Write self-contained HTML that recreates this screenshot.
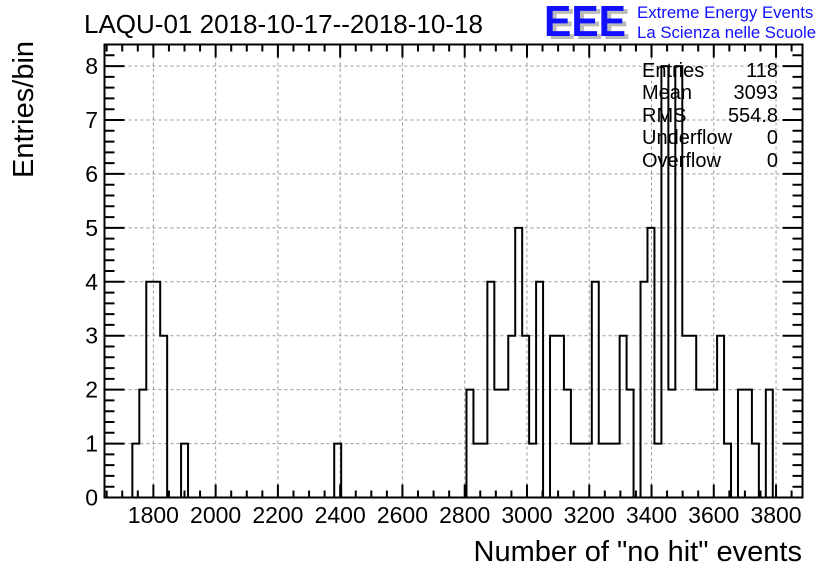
<!DOCTYPE html>
<html><head><meta charset="utf-8"><style>
html,body{margin:0;padding:0;background:#fff;}
svg{display:block;font-family:"Liberation Sans",sans-serif;}
</style></head><body>
<svg id="chart" width="836" height="572" viewBox="0 0 836 572">
<rect width="836" height="572" fill="#fff"/>
<g id="grid"></g>
<g id="ticks"></g>
<g id="labels" font-size="23" fill="#000"></g>
<path id="hist" fill="none" stroke="#000" stroke-width="2"/>
<rect x="104.5" y="44.5" width="698" height="453" fill="none" stroke="#000" stroke-width="2"/>
<text x="84" y="33" font-size="26">LAQU-01 2018-10-17--2018-10-18</text>
<text transform="translate(33,178) rotate(-90)" font-size="29">Entries/bin</text>
<text x="802" y="561" font-size="29" text-anchor="end">Number of "no hit" events</text>
<g>
<text x="548" y="39" font-size="44" font-weight="bold" fill="#bbb" textLength="82" lengthAdjust="spacingAndGlyphs">EEE</text>
<text x="544" y="36" font-size="44" font-weight="bold" fill="#1010ff" textLength="82" lengthAdjust="spacingAndGlyphs">EEE</text>
<text x="637" y="18" font-size="16.8" fill="#1010ff">Extreme Energy Events</text>
<text x="637" y="38" font-size="16.8" fill="#1010ff">La Scienza nelle Scuole</text>
</g>
<g font-size="20">
<text x="642" y="77">Entries</text><text x="778" y="77" text-anchor="end">118</text>
<text x="642" y="99">Mean</text><text x="778" y="99" text-anchor="end">3093</text>
<text x="642" y="122">RMS</text><text x="778" y="122" text-anchor="end">554.8</text>
<text x="642" y="144">Underflow</text><text x="778" y="144" text-anchor="end">0</text>
<text x="642" y="167">Overflow</text><text x="778" y="167" text-anchor="end">0</text>
</g>
</svg>
<script>
const xMin = 1643;
const binWidth = 22.36;
const counts = [0,0,0,0,1,2,4,4,3,0, 0,1,0,0,0,0,0,0,0,0, 0,0,0,0,0,0,0,0,0,0, 0,0,0,1,0,0,0,0,0,0, 0,0,0,0,0,0,0,0,0,0, 0,0,2,1,1,4,2,2,3,5, 3,1,4,0,3,3,2,1,1,1, 4,1,1,1,3,2,0,4,5,1, 8,2,8,3,3,2,2,2,3,1, 0,2,2,1,0,2,0,0,0,0];
const xTicks = [1800,2000,2200,2400,2600,2800,3000,3200,3400,3600,3800];
const yTicks = [0,1,2,3,4,5,6,7,8];
const X0=104.5,X1=802.5,Y0=497.5,Y1=44.5;
const xLo=1643, xHi=3885, yHi=8.4;
function sx(v){return X0+(v-xLo)/(xHi-xLo)*(X1-X0);}
function sy(v){return Y0-v/yHi*(Y0-Y1);}
const NS="http://www.w3.org/2000/svg";
function mk(tag,attrs,parent){const e=document.createElementNS(NS,tag);for(const k in attrs)e.setAttribute(k,attrs[k]);parent.appendChild(e);return e;}
const grid=document.getElementById('grid'),ticks=document.getElementById('ticks'),labels=document.getElementById('labels');
xTicks.forEach(t=>{
  const x=sx(t);
  const g=mk('line',{x1:x,x2:x,y1:Y1,y2:Y0,stroke:'#999','stroke-dasharray':'3,3','stroke-width':1},grid);
  
  
  const l=mk('text',{x:x,y:523,'text-anchor':'middle'},labels);
  
  
  l.textContent=t;
});
yTicks.forEach(t=>{
  const y=sy(t);
  if(t>0){const g=mk('line',{x1:X0,x2:X1,y1:y,y2:y,stroke:'#999','stroke-dasharray':'3,3','stroke-width':1},grid);
  
  }
  const l=mk('text',{x:98,y:y+8,'text-anchor':'end'},labels);
  
  
  l.textContent=t;
});
let d='';
for(let v=1650;v<=3850;v+=50){const x=sx(v);const L=(v%200===0)?13:7;
  d+=`M${x},${Y0}v${-L}M${x},${Y1}v${L}`;}
for(let v=0;v<=8.4;v+=0.2){const y=sy(v);const L=(Math.abs(v-Math.round(v))<1e-6)?20:10;
  d+=`M${X0},${y}h${L}M${X1},${y}h${-L}`;}
mk('path',{d:d,stroke:'#000','stroke-width':2,fill:'none'},ticks);
let p=`M${sx(xLo)},${sy(0)}`;
counts.forEach((c,i)=>{const a=sx(xLo+i*binWidth),b=sx(xLo+(i+1)*binWidth);p+=`L${a},${sy(c)}L${b},${sy(c)}`;});
p+=`L${sx(xLo+counts.length*binWidth)},${sy(0)}`;
document.getElementById('hist').setAttribute('d',p);
</script>
</body></html>
